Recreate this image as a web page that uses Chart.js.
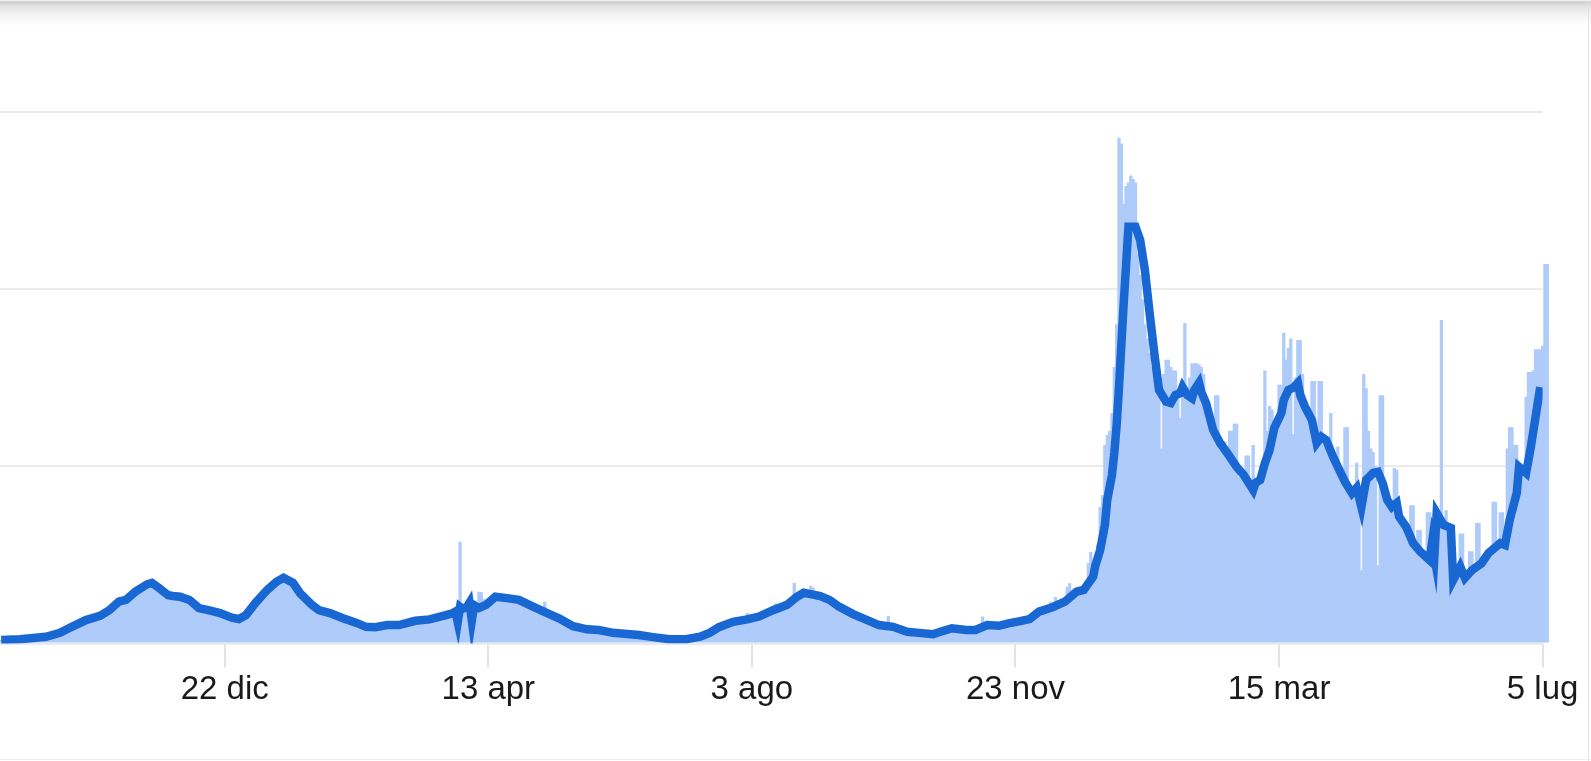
<!DOCTYPE html>
<html><head><meta charset="utf-8">
<script src="https://cdn.jsdelivr.net/npm/chart.js@4.4.1/dist/chart.umd.min.js"></script>
<style>
html,body{margin:0;padding:0;background:#fff;}
#wrap{position:relative;width:1591px;height:761px;overflow:hidden;background:#fff;}
#c{position:absolute;left:0;top:0;}
.topshade{position:absolute;left:0;top:0;width:1591px;height:26px;background:linear-gradient(to bottom,#fafafa 0px,#cdcdcd 2px,#e2e2e2 6px,#f3f3f3 14px,#ffffff 26px);}
.rline{position:absolute;left:1588px;top:0;width:1px;height:761px;background:#e2e2e2;}
.bline{position:absolute;left:0;top:759px;width:1591px;height:1px;background:#ececec;}
</style></head><body>
<div id="wrap"><canvas id="c" width="1591" height="761"></canvas><div class="topshade"></div><div class="rline"></div><div class="bline"></div></div>
<script>
// x ticks (day index, label)
const tickDays = [95, 207, 319, 431, 543, 655];
const tickLabels = ['22 dic', '13 apr', '3 ago', '23 nov', '15 mar', '5 lug'];

// daily values (bars), index = day number
const dailyCases = [
1.0,1.1,1.0,0.9,1.1,1.2,1.1,1.0,1.2,1.2,
1.3,1.3,1.2,1.4,1.5,1.5,1.4,1.6,1.7,1.9,
2.0,2.2,2.3,2.6,2.9,3.1,3.3,3.6,3.9,4.3,
4.7,5.0,5.4,5.6,6.0,6.3,6.6,6.9,7.1,7.4,
7.6,7.8,8.0,8.3,8.7,9.0,9.4,10.0,10.6,11.2,
11.8,12.1,12.2,12.4,13.0,13.5,14.0,14.6,15.1,15.6,
16.2,16.7,17.0,17.2,17.2,16.8,16.3,15.8,15.2,14.6,
14.0,13.6,13.4,13.8,13.5,13.2,13.3,12.9,12.7,12.4,
12.3,11.8,11.2,10.6,10.0,9.9,9.8,9.6,9.4,9.4,
9.2,8.9,8.7,8.5,8.2,8.0,7.8,7.5,7.3,7.1,
7.0,6.9,7.1,7.6,8.0,8.8,9.6,10.5,11.4,12.3,
13.3,14.2,15.0,15.7,16.3,16.8,17.3,17.7,18.1,18.4,
18.5,18.3,17.8,17.2,16.5,15.7,14.9,14.2,13.4,12.6,
11.8,10.9,10.3,9.9,9.6,9.4,9.2,9.0,8.8,8.5,
8.3,8.1,7.8,7.6,7.4,7.2,7.0,6.7,6.4,6.1,
5.9,5.6,5.3,5.0,4.8,4.7,4.6,4.6,4.6,4.6,
4.8,4.9,5.0,5.2,5.2,5.2,5.1,5.2,5.2,5.3,
5.5,5.6,5.8,6.0,6.1,6.3,6.4,6.5,6.6,6.6,
6.7,6.7,6.8,7.0,7.1,7.3,7.5,7.6,7.8,8.0,
8.2,8.4,8.7,8.8,8.5,28.7,9.5,10.0,10.5,10.0,
9.8,10.3,10.2,14.6,14.5,12.5,11.2,12.0,12.6,13.0,
13.6,13.9,13.5,13.2,13.0,12.8,12.9,12.7,12.5,12.4,
12.3,12.0,11.6,11.2,10.9,10.5,10.2,9.8,9.4,9.0,
8.8,11.8,8.5,8.3,8.0,7.8,7.5,7.2,6.8,6.4,
6.0,5.6,5.1,4.8,4.6,4.4,4.3,4.2,4.1,4.0,
4.0,3.9,3.9,3.8,3.8,3.7,3.6,3.4,3.2,3.0,
3.0,2.9,2.9,2.8,2.8,2.7,2.7,2.6,2.6,2.5,
2.5,2.4,2.3,2.2,2.1,2.0,1.9,1.8,1.7,1.6,
1.5,1.4,1.3,1.3,1.2,1.2,1.2,1.2,1.2,1.2,
1.2,1.2,1.3,1.4,1.5,1.6,1.8,2.0,2.3,2.6,
2.9,3.2,3.6,4.0,4.3,4.6,4.9,5.2,5.5,5.8,
6.0,6.2,6.3,6.4,6.5,6.6,6.8,8.6,6.9,7.1,
7.2,7.4,7.6,7.9,8.3,8.7,9.1,9.4,9.8,11.3,
10.4,10.6,10.8,11.2,11.8,12.3,12.8,17.1,13.6,14.0,
14.2,14.4,14.3,14.2,16.3,15.8,14.0,13.7,13.4,13.2,
12.9,12.6,12.3,11.9,11.4,10.9,10.4,10.0,9.5,9.0,
8.7,8.4,8.1,7.8,7.5,7.2,6.9,6.6,6.4,6.1,
5.9,5.6,5.4,5.2,5.1,5.0,4.9,7.8,4.7,4.6,
4.4,4.2,3.9,3.7,3.5,3.3,3.2,3.1,3.1,3.0,
3.0,2.9,2.8,2.8,2.7,2.6,2.6,2.8,3.0,3.3,
3.5,3.7,3.9,4.1,4.3,4.3,4.2,4.1,4.0,3.9,
3.8,3.8,3.8,3.9,3.9,4.3,4.8,7.6,5.2,5.2,
5.1,5.1,5.0,5.0,5.0,5.2,5.4,5.5,5.7,5.8,
5.9,6.0,6.1,6.2,6.4,6.6,6.8,7.2,7.6,7.8,
8.3,8.8,9.1,9.4,9.7,10.1,11.8,10.4,13.1,11.0,
11.3,11.6,11.8,16.0,17.0,14.0,14.6,15.0,15.0,15.1,
15.5,17.0,22.7,25.8,19.5,22.0,28.0,38.5,41.9,56.0,
58.8,60.0,65.0,78.0,90.0,142.6,141.0,124.0,129.0,130.0,
132.0,131.0,130.0,110.0,104.0,97.0,90.0,86.0,82.0,78.0,
80.0,74.0,76.0,55.0,76.0,80.0,80.0,78.0,77.0,77.0,
70.0,63.6,72.0,90.4,72.0,75.0,79.0,79.0,79.0,78.7,
78.0,76.0,66.0,62.0,60.0,58.0,70.0,70.0,56.0,55.0,
57.0,52.0,60.0,60.0,62.0,62.0,47.0,48.0,47.0,53.0,
53.0,43.0,56.0,45.0,46.0,46.0,50.0,77.0,60.0,67.0,
66.0,62.0,64.0,73.0,73.0,87.6,80.0,83.4,86.0,59.0,
75.0,85.6,85.6,76.0,66.0,64.0,62.0,74.0,74.0,56.0,
74.0,74.0,56.0,55.0,54.0,65.0,52.0,50.0,55.5,47.0,
46.0,61.0,61.0,44.0,43.0,42.0,51.0,40.0,20.7,76.0,
72.0,60.0,55.0,54.0,50.0,22.0,70.0,70.0,42.0,41.0,
40.0,38.0,49.5,49.0,36.0,35.0,33.0,32.0,31.0,39.0,
39.0,27.0,32.0,32.0,25.0,24.0,37.0,37.0,25.0,24.0,
36.0,34.0,91.2,34.0,37.6,33.0,32.0,18.0,20.0,21.0,
31.0,31.0,18.0,19.0,26.0,26.0,20.0,34.0,34.0,22.0,
24.0,25.0,26.0,27.0,40.0,40.0,28.0,37.0,37.0,28.0,
55.0,61.0,61.0,56.0,56.0,49.0,48.0,50.0,69.6,76.6,
76.6,77.0,83.0,83.0,83.0,84.0,107.0,107.0
];

// 7-day average (line): day index and value
const avgDays = [
0,8,19,25,30,36,42,46,50,53,
57,62,64,67,71,73,76,80,84,88,
93,98,101,104,108,113,117,120,124,127,
132,135,140,145,151,155,159,164,169,176,
182,189,192,193,194,195,196,198,199,200,
201,203,206,210,215,220,226,232,237,243,
249,254,260,266,271,277,284,291,297,301,
305,311,317,322,328,334,338,341,345,348,
352,356,362,368,373,379,385,390,396,400,
404,410,414,419,424,428,433,437,441,447,
452,457,460,464,465,467,469,470,472,473,
474,475,476,477,478,479,482,484,486,488,
490,492,495,497,499,501,502,504,506,507,
509,510,512,515,518,521,525,528,532,533,
535,537,539,541,544,545,547,549,551,552,
554,557,559,561,563,566,569,571,574,576,
578,580,583,585,587,589,591,593,594,597,
600,603,607,608,609,610,613,616,617,620,
622,625,629,632,637,639,641,644,645,648,
650,652,654
];
const avgValues = [
1.0,1.2,1.9,3.0,4.7,6.6,7.8,9.4,11.8,12.3,
14.6,16.7,17.1,15.7,13.6,13.4,13.2,12.3,10.0,9.4,
8.6,7.3,6.9,8.0,11.4,15.1,17.4,18.5,17.1,14.2,
10.9,9.4,8.5,7.2,5.8,4.7,4.6,5.2,5.2,6.4,
6.8,8.0,8.6,9.0,6.0,10.3,9.8,10.4,11.5,6.5,
10.8,10.0,10.9,13.2,12.8,12.3,10.4,8.6,7.1,4.9,
4.0,3.8,3.0,2.7,2.4,1.8,1.2,1.2,1.9,3.0,
4.6,6.1,6.8,7.6,9.4,10.9,13.1,14.3,13.8,13.4,
12.3,10.4,8.3,6.6,5.2,4.7,3.3,3.0,2.6,3.5,
4.3,3.8,3.8,5.2,5.0,5.7,6.3,6.9,9.0,10.3,
11.8,14.6,15.1,18.8,22.1,26.4,33.4,40.5,47.5,53.7,
61.6,72.3,84.2,96.0,106.7,117.5,117.5,113.8,105.3,93.2,
81.9,71.5,68.2,67.8,70.1,70.6,72.3,70.1,69.2,71.5,
73.5,70.9,67.8,60.2,56.5,53.7,49.8,47.5,43.3,45.3,
46.1,50.9,54.6,60.8,65.0,68.7,71.5,72.1,73.5,70.1,
66.8,63.0,56.5,58.3,57.4,52.6,48.4,45.6,42.4,43.9,
38.5,46.1,48.1,48.4,45.3,40.5,38.5,39.6,35.8,32.9,
28.3,25.9,23.5,28.3,24.5,36.8,33.4,32.6,17.9,21.7,
18.5,20.7,22.6,25.5,28.3,27.8,34.8,42.4,49.8,48.1,
55.4,63.9,72.3
];

const barPoints = dailyCases.map((v, i) => ({x: i, y: v}));
const n = Math.min(avgDays.length, avgValues.length);
const linePoints = [];
for (let i = 0; i < n; i++) linePoints.push({x: avgDays[i], y: avgValues[i]});

new Chart(document.getElementById('c'), {
  type: 'bar',
  data: {
    datasets: [
      {
        type: 'line', data: linePoints, borderColor: '#1967d2', borderWidth: 8.5,
        pointRadius: 0, tension: 0, borderJoinStyle: 'miter', borderCapStyle: 'butt',
        fill: false, order: 0
      },
      {
        type: 'bar', data: barPoints, backgroundColor: '#aecbfa', borderWidth: 0,
        barPercentage: 1.4, categoryPercentage: 1, order: 1, clip: false
      }
    ]
  },
  options: {
    responsive: false, animation: false,
    layout: { padding: { top: 111.6, right: 48.4, left: 0, bottom: 0 }, autoPadding: false },
    plugins: { legend: { display: false }, tooltip: { enabled: false } },
    scales: {
      x: {
        type: 'linear', min: -0.5, max: 655, offset: false,
        afterBuildTicks: s => { s.ticks = tickDays.map(v => ({ value: v })); },
        afterFit: s => { s.height = 117.5; },
        grid: { offset: false, drawOnChartArea: false, drawTicks: true, tickLength: 24, color: '#e3e3e3', lineWidth: 2 },
        border: { display: false },
        ticks: {
          autoSkip: false, maxRotation: 0, minRotation: 0, padding: 3, color: '#1a1a1a',
          font: { family: "'Liberation Sans', Arial, sans-serif", size: 33 },
          callback: v => { const i = tickDays.indexOf(v); return i >= 0 ? tickLabels[i] : ''; }
        }
      },
      y: {
        min: 0, max: 150,
        afterFit: s => { s.width = 0; },
        ticks: { display: false, stepSize: 50 },
        grid: { color: '#ebebeb', lineWidth: 2, drawTicks: false },
        border: { display: false }
      }
    }
  }
});
</script>
</body></html>
